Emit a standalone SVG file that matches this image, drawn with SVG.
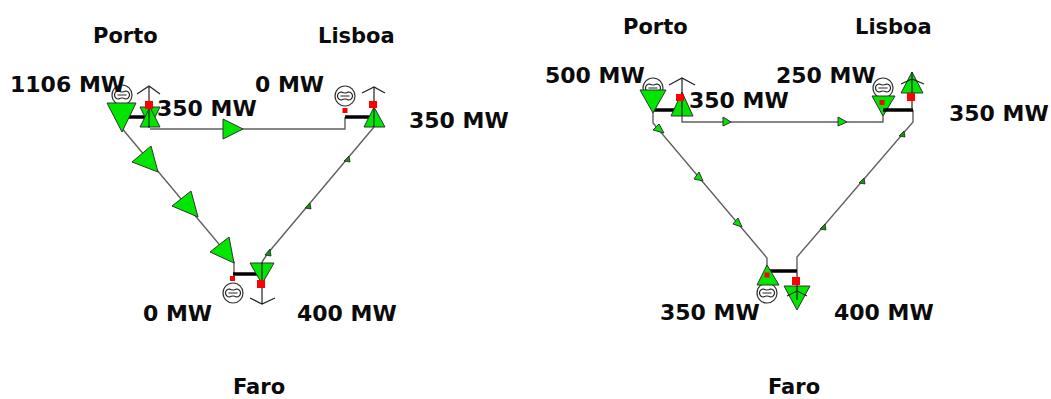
<svg xmlns="http://www.w3.org/2000/svg" width="1051" height="399" viewBox="0 0 1051 399">
<style>
text{font-family:"DejaVu Sans",Verdana,sans-serif;font-weight:700;font-size:22px;fill:#0b0b0b}
text.n{font-size:21px}
.l{fill:none;stroke:#606060;stroke-width:1.4}
.k{fill:none;stroke:#222;stroke-width:1.2}
.b{fill:none;stroke:#000;stroke-width:3.5}
.g{fill:#00e600;stroke:#333;stroke-width:1}
.d{fill:#0a9a0a;stroke:#222;stroke-width:.8}
.c{fill:#fff;stroke:#333;stroke-width:1.2}
.r{fill:#f00}
</style>
<defs>
<g id="gen">
<circle class="c" r="10"/>
<path class="k" d="M-3.500 -4 Q0 -2 3.500 -4 A4 4 0 0 1 3.500 4 Q0 2 -3.500 4 A4 4 0 0 1 -3.500 -4Z M-4.500 0 H4.500"/>
</g>
</defs>
<rect width="1051" height="399" fill="#fff"/>
<g id="connectors">
<path class="l" d="M122 128 L125 132 L234 262 V274"/>
<path class="l" d="M150 129 H345 V117"/>
<path class="l" d="M374 127 L268 253 L262 262"/>
<path class="l" d="M653 113 V123 L767 258 V271"/>
<path class="l" d="M682 116 V122 H883 V110"/>
<path class="l" d="M913 110 V122 L797 257 V271"/>
<g class="g">
<path d="M151 146 L158 172 L132 162Z"/><path d="M191 191 L198 217 L172 206Z"/><path d="M229 237 L234 263 L210 252Z"/>
<path d="M223 119 L243 129 L223 139Z"/>
<path d="M653 130 L659 124 L664 133Z"/><path d="M694 179 L699 172 L703 181Z"/><path d="M733 224 L738 218 L742 227Z"/>
<path d="M723 117 L731 122 L723 126Z"/><path d="M838 117 L847 122 L838 126Z"/>
</g>
<g class="d">
<path d="M349 156 L344 161 L350 162Z"/><path d="M310 203 L305 208 L311 209Z"/><path d="M270 249 L265 255 L271 256Z"/>
<path d="M904 131 L899 136 L905 137Z"/><path d="M864 178 L859 183 L865 184Z"/><path d="M825 224 L820 229 L826 230Z"/>
</g>
</g>
<g id="porto-1">
<use href="#gen" x="122" y="95"/>
<path class="b" d="M122 117 H149"/>
<path class="g" d="M107 103 H136 L122 132Z"/>
<path class="g" d="M140 107 H160 L150 127Z"/><path class="g" d="M150 107 L160 127 H140Z"/>
<path class="k" d="M149 86 V128 M137 94 L149 86 L160 94"/>
<rect class="r" x="145" y="101" width="8" height="8"/>
<text x="10" y="92">1106 MW</text><text class="n" x="93" y="43">Porto</text><text x="157" y="116">350 MW</text>
</g>
<g id="lisboa-1">
<use href="#gen" x="345" y="96"/>
<rect class="r" x="342.500" y="108" width="5" height="5"/>
<path class="b" d="M345 117 H375"/>
<path class="g" d="M374 107 L385 127 H364Z"/>
<path class="k" d="M374 87 V127 M362 93 L374 87 L385 93"/>
<rect class="r" x="369" y="101" width="8" height="7"/>
<text x="255" y="92">0 MW</text><text class="n" x="318" y="43">Lisboa</text><text x="409" y="128">350 MW</text>
</g>
<g id="faro-1">
<path class="b" d="M233 274 H262"/>
<rect class="r" x="230" y="276" width="5" height="5"/>
<use href="#gen" x="233" y="293"/>
<path class="g" d="M250 263 H274 L262 284Z"/>
<path class="k" d="M262 262 V304 M250 298 L262 304 L275 298"/>
<rect class="r" x="257" y="280" width="8" height="8"/>
<text x="143" y="321">0 MW</text><text x="297" y="321">400 MW</text><text class="n" x="233" y="394">Faro</text>
</g>
<g id="porto-2">
<use href="#gen" x="653" y="88"/>
<path class="b" d="M653 110 H682"/>
<path class="g" d="M640 90 H666 L653 113Z"/>
<path class="g" d="M682 92 L693 116 H671Z"/>
<path class="k" d="M682 78 V116 M669 85 L682 78 L695 85"/>
<rect class="r" x="676" y="94" width="8" height="7"/>
<text x="545" y="83">500 MW</text><text class="n" x="623" y="34">Porto</text><text x="689" y="108">350 MW</text>
</g>
<g id="lisboa-2">
<use href="#gen" x="883" y="88"/>
<path class="g" d="M872 96 H895 L883 116Z"/>
<rect class="r" x="879.500" y="100" width="5" height="5"/>
<path class="b" d="M883 110 H913"/>
<path class="g" d="M912 72 L923 93 H901Z"/>
<path class="k" d="M912 72 V110 M901 84 L912 79 L924 84"/>
<rect class="r" x="907" y="93" width="8" height="8"/>
<text x="776" y="83">250 MW</text><text class="n" x="855" y="34">Lisboa</text><text x="949" y="121">350 MW</text>
</g>
<g id="faro-2">
<path class="b" d="M768 271 H797"/>
<use href="#gen" x="767" y="293"/>
<path class="g" d="M767 265 L779 285 H757Z"/>
<rect class="r" x="764.500" y="272.500" width="5" height="5"/>
<path class="g" d="M784 286 H810 L797 310Z"/>
<path class="k" d="M797 271 V300 M787 296 L797 291 L807 296"/>
<rect class="r" x="792" y="277" width="8" height="8"/>
<text x="660" y="320">350 MW</text><text x="834" y="320">400 MW</text><text class="n" x="768" y="394">Faro</text>
</g>
</svg>
